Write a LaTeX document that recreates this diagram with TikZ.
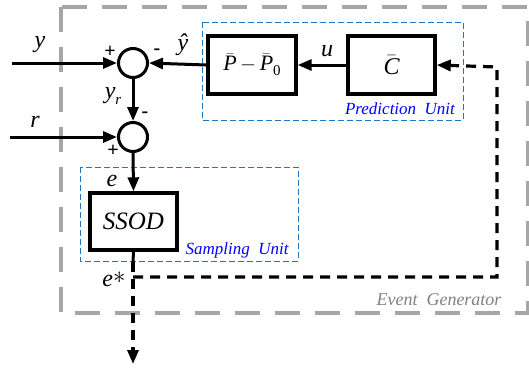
\documentclass[tikz,border=0pt]{standalone}
\usepackage{fontspec}
\setmainfont{Liberation Serif}
\usetikzlibrary{arrows.meta}
\newcommand{\barit}[1]{\ensuremath{\bar{\mbox{\itshape #1}}}}
\begin{document}
\begin{tikzpicture}[x=1pt,y=-1pt,
  sig/.style={line width=3pt},
  tip/.style={-{Triangle[length=14pt,width=11pt]}},
  blk/.style={draw,line width=3.4pt,minimum width=86pt,minimum height=58pt,inner sep=0pt},
  sumj/.style={draw,circle,line width=3pt,minimum size=29pt,inner sep=0pt},
  var/.style={font=\fontsize{24}{24}\selectfont\itshape,inner sep=0pt},
  sgn/.style={font=\fontsize{20}{20}\selectfont\bfseries,inner sep=0pt},
  unitbox/.style={draw={rgb,255:red,30;green,120;blue,200},line width=0.9pt,dash pattern=on 6pt off 3pt},
  unitlbl/.style={text=blue,font=\fontsize{17}{17}\selectfont\itshape,inner sep=0pt},
  evdash/.style={line width=3.2pt,dash pattern=on 10pt off 7pt}]
\useasboundingbox (0,0) rectangle (529,367);

% event generator frame
\draw[draw=black!35,line width=3.2pt,dash pattern=on 25pt off 15pt] (61,7) rectangle (528,313);
\node[text=black!50,font=\fontsize{18}{18}\selectfont\itshape,inner sep=0pt] (evlbl) at (439,300) {Event\ \ Generator};

% prediction and sampling units
\draw[unitbox] (202,22) rectangle (463,120);
\node[unitlbl] (predlbl) at (400,109) {Prediction\ \ Unit};
\draw[unitbox] (80,167) rectangle (298,261);
\node[unitlbl] (samplbl) at (237,250) {Sampling\ \ Unit};

% blocks and summing junctions
\node[blk,minimum width=88pt] (P) at (252,65) {\fontsize{22}{22}\selectfont\barit{P}$\,-\,$\barit{P}\raisebox{-5pt}{\fontsize{15}{15}\selectfont 0}};
\node[blk,minimum width=87pt] (C) at (391.5,65) {\fontsize{24}{24}\selectfont\barit{C}};
\node[sumj] (s1) at (133,63) {};
\node[sumj] (s2) at (133,137) {};
\node[blk,minimum width=87pt,minimum height=57pt] (S) at (133.5,221.5) {\fontsize{25}{25}\selectfont\itshape SSOD};

% free ends
\coordinate (yin) at (12,63);
\coordinate (rin) at (10,137);
\coordinate (sb) at (133,262);
\coordinate (out) at (133,364);
\coordinate (ej) at (133,277);
\coordinate (fr) at (497,277);
\coordinate (fu) at (497,67);

% signal connectors
\draw[sig,tip] (yin) -- (s1.west);
\draw[sig,tip] (rin) -- (s2.west);
\draw[sig,tip] (P.west) -- (s1.east);
\draw[sig,tip] (C.west) -- (P.east);
\draw[sig,tip] (s1.south) -- (s2.north);
\draw[sig,tip] (s2.south) -- (S.north);
\draw[sig] (S.south) -- (sb);
\draw[evdash,tip] (sb) -- (out);
\draw[evdash,tip] (ej) -- (fr) -- (fu) -- (C.east);

% labels
\node[var] (ly) at (40,45) {y};
\node[var] (lr) at (35,122) {r};
\node[var] (lyh) at (183,45) {\^{y}};
\node[var] (lu) at (327,51) {u};
\node[var] (lyr) at (113,96) {y\raisebox{-6pt}{\fontsize{15}{15}\selectfont r}};
\node[var] (le) at (112,181) {e};
\node[var] (les) at (114,279) {e\raisebox{3pt}{$\ast$}};
\node[sgn] (p1) at (110,52) {+};
\node[sgn] (m1) at (157,52) {-};
\node[sgn] (m2) at (145,115) {-};
\node[sgn] (p2) at (113,151) {+};
\end{tikzpicture}
\end{document}
